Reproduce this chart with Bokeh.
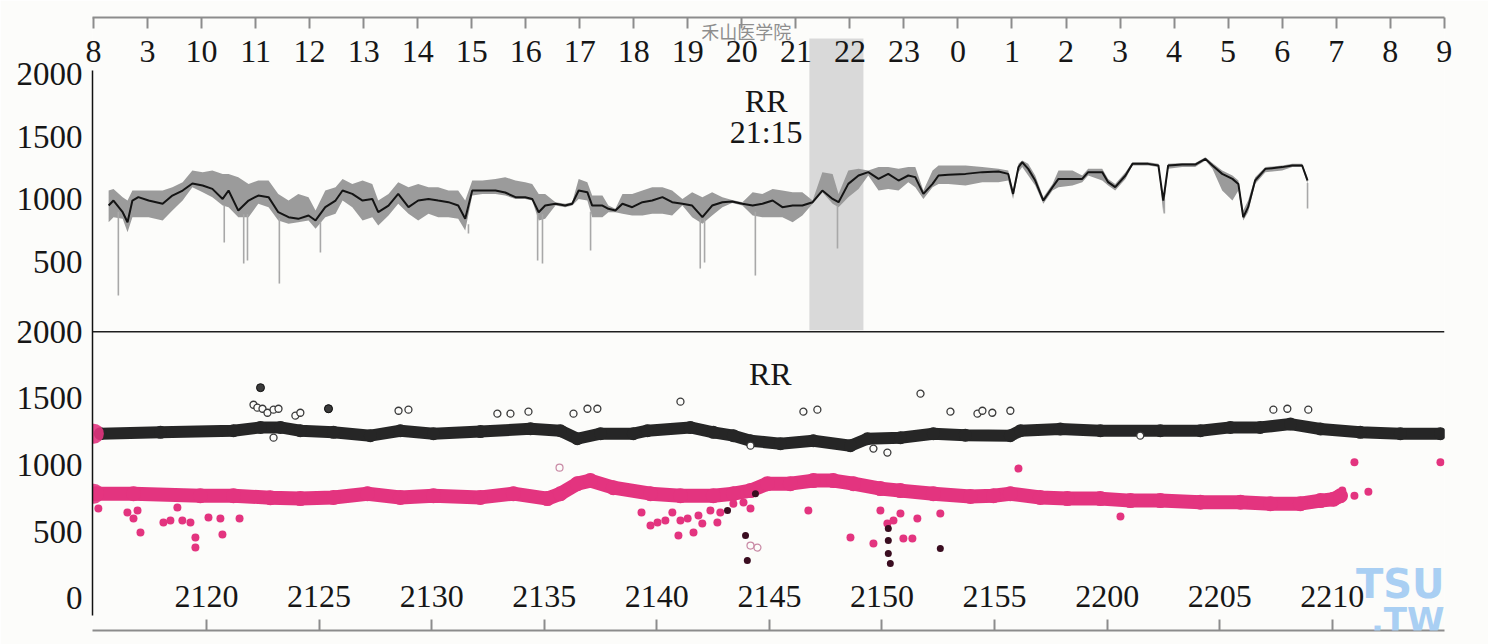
from bokeh.plotting import figure
from bokeh.models import Range1d, LinearAxis, FixedTicker, Span, BoxAnnotation, Label
from bokeh.embed import file_html
from bokeh.resources import INLINE

# ---------------- data ----------------
hour_ticks = list(range(8, 34))
hour_labels = ["8", "3", "10", "11", "12", "13", "14", "15", "16", "17", "18", "19", "20",
               "21", "22", "23", "0", "1", "2", "3", "4", "5", "6", "7", "8", "9"]

# 24 h RR trend (hours after midnight of day 1; >24 = next morning)
trend_hour = [8.28, 8.37, 8.54, 8.63, 8.72, 8.83, 9.02, 9.28, 9.46, 9.65, 9.83, 10.02, 10.20, 10.39,
              10.50, 10.68, 10.87, 11.05, 11.24, 11.42, 11.61, 11.79, 11.98, 12.11, 12.29, 12.48,
              12.61, 12.79, 12.98, 13.16, 13.27, 13.46, 13.64, 13.83, 14.01, 14.20, 14.38, 14.57,
              14.75, 14.88, 15.01, 15.20, 15.44, 15.62, 15.81, 15.99, 16.12, 16.24, 16.36, 16.55,
              16.73, 16.86, 16.98, 17.14, 17.23, 17.42, 17.53, 17.66, 17.79, 17.97, 18.16, 18.34,
              18.53, 18.71, 18.90, 19.08, 19.27, 19.45, 19.64, 19.82, 20.01, 20.20, 20.38, 20.57,
              20.75, 20.94, 21.12, 21.31, 21.49, 21.68, 21.79, 21.97, 22.16, 22.34, 22.53, 22.71,
              22.90, 23.08, 23.21, 23.36, 23.53, 23.64, 23.82, 24.14, 24.45, 24.75, 24.93, 25.02,
              25.12, 25.19, 25.30, 25.43, 25.58, 25.75, 25.86, 26.12, 26.30, 26.41, 26.67, 26.78,
              26.91, 27.10, 27.23, 27.52, 27.71, 27.80, 27.89, 28.15, 28.39, 28.58, 28.71, 28.89,
              29.08, 29.19, 29.28, 29.37, 29.50, 29.69, 30.00, 30.19, 30.37, 30.47]
trend_mean = [950, 990, 897, 817, 990, 1017, 990, 964, 1030, 1070, 1126, 1110, 1083, 1003,
              1070, 910, 990, 1030, 1017, 897, 857, 844, 871, 831, 937, 990,
              1070, 1043, 990, 1003, 897, 950, 1043, 937, 990, 1003, 990, 977,
              950, 844, 1070, 1070, 1070, 1054, 1017, 1017, 1003, 897, 950, 964,
              950, 964, 1070, 1057, 950, 950, 924, 910, 964, 937, 977, 990,
              1017, 977, 964, 950, 857, 950, 977, 983, 964, 950, 964, 990,
              937, 950, 950, 977, 1070, 1003, 977, 1123, 1190, 1217, 1163, 1203,
              1150, 1190, 1177, 1043, 1123, 1190, 1197, 1203, 1217, 1222, 1203, 1043,
              1257, 1296, 1243, 1150, 990, 1097, 1163, 1163, 1163, 1217, 1217, 1137,
              1097, 1190, 1283, 1283, 1270, 990, 1270, 1277, 1277, 1323, 1270, 1203,
              1163, 1123, 857, 937, 1150, 1243, 1257, 1270, 1270, 1150]
trend_low = [817, 857, 844, 737, 857, 857, 857, 831, 910, 990, 1097, 1057, 1017, 950,
             937, 857, 857, 964, 937, 831, 804, 817, 831, 764, 857, 884,
             990, 937, 831, 857, 791, 871, 964, 884, 831, 884, 857, 857,
             844, 751, 1030, 1043, 1043, 1030, 1003, 1003, 990, 831, 844, 950,
             937, 950, 1003, 990, 857, 857, 897, 897, 884, 871, 871, 884,
             884, 871, 950, 857, 804, 871, 937, 970, 950, 871, 857, 857,
             857, 817, 871, 964, 1057, 964, 937, 1017, 1083, 1190, 1070, 1083,
             1070, 1137, 1097, 1003, 1097, 1123, 1123, 1110, 1137, 1137, 1150, 1003,
             1217, 1257, 1190, 1110, 964, 1070, 1097, 1110, 1137, 1190, 1150, 1110,
             1070, 1163, 1270, 1270, 1257, 884, 1243, 1257, 1257, 1310, 1243, 1070,
             990, 1070, 831, 897, 1123, 1217, 1230, 1257, 1257, 1123]
trend_high = [1070, 1083, 1017, 990, 1070, 1070, 1070, 1070, 1097, 1137, 1230, 1217, 1230, 1203,
              1203, 1177, 1123, 1150, 1150, 1043, 990, 1043, 1017, 910, 1070, 1097,
              1163, 1123, 1150, 1123, 990, 1043, 1137, 1097, 1123, 1097, 1097, 1070,
              1070, 990, 1150, 1150, 1163, 1177, 1150, 1137, 1123, 1043, 1043, 977,
              964, 977, 1163, 1137, 1030, 1030, 950, 924, 1043, 1043, 1070, 1097,
              1097, 1070, 1003, 1057, 1017, 1057, 1017, 995, 977, 1057, 1043, 1083,
              1070, 1057, 1057, 990, 1217, 1203, 1043, 1230, 1243, 1230, 1257, 1257,
              1243, 1257, 1257, 1070, 1230, 1270, 1270, 1270, 1257, 1243, 1230, 1070,
              1283, 1310, 1283, 1190, 1017, 1123, 1230, 1230, 1190, 1243, 1243, 1163,
              1123, 1217, 1296, 1296, 1283, 1003, 1283, 1290, 1290, 1336, 1290, 1230,
              1190, 1150, 910, 990, 1177, 1257, 1270, 1283, 1283, 1177]

# isolated short RR intervals (downward spikes) in the 24 h trend
spike_hour = [8.46, 10.42, 10.78, 10.85, 11.44, 12.20, 14.94, 16.22, 16.31, 17.20,
              19.23, 19.31, 20.25, 21.77, 27.82, 30.47]
spike_top = [900, 950, 880, 880, 850, 820, 800, 880, 880, 900,
             840, 840, 900, 950, 1000, 1130]
spike_low = [232, 655, 487, 511, 327, 575, 727, 511, 487, 591,
             447, 495, 391, 607, 887, 927]

# highlighted hour window (21:15 - 22:15)
window_start_h = 21.25
window_end_h = 22.25

# y axis ticks of both panels
top_y_ticks = [500, 1000, 1500, 2000]
bottom_y_ticks = [0, 500, 1000, 1500, 2000]

# one-hour detail (minutes after midnight)
minute_ticks = [1280, 1285, 1290, 1295, 1300, 1305, 1310, 1315, 1320, 1325, 1330]
minute_labels = ["2120", "2125", "2130", "2135", "2140", "2145", "2150", "2155", "2200", "2205", "2210"]

black_t = [1275.29, 1277.96, 1281.20, 1282.40, 1283.29, 1284.17, 1285.64, 1287.28, 1288.61, 1290.08,
           1292.17, 1294.39, 1295.72, 1296.47, 1297.50, 1298.96, 1299.58, 1301.49, 1302.51, 1303.40,
           1304.16, 1305.49, 1306.95, 1308.60, 1309.35, 1310.82, 1312.28, 1313.70, 1315.70, 1316.15,
           1317.92, 1319.70, 1322.36, 1324.14, 1325.47, 1326.80, 1328.14, 1329.47, 1331.24, 1333.02,
           1334.80]
black_v = [1236, 1246, 1258, 1283, 1283, 1258, 1246, 1221, 1258, 1236,
           1252, 1273, 1258, 1198, 1236, 1236, 1258, 1283, 1246, 1221,
           1183, 1161, 1183, 1146, 1198, 1206, 1236, 1225, 1221, 1258,
           1271, 1258, 1258, 1258, 1283, 1283, 1308, 1271, 1246, 1236,
           1236]

pink_t = [1275.10, 1276.76, 1279.73, 1281.20, 1282.84, 1284.17, 1285.64, 1287.15, 1288.61, 1290.08,
          1292.17, 1293.63, 1295.14, 1295.72, 1296.47, 1297.05, 1298.07, 1299.72, 1301.05, 1302.51,
          1303.40, 1304.16, 1304.91, 1305.93, 1306.95, 1307.84, 1308.73, 1309.93, 1310.82, 1312.28,
          1313.93, 1314.95, 1315.70, 1317.03, 1318.23, 1319.70, 1321.03, 1322.36, 1324.14, 1325.92,
          1327.25, 1328.58, 1329.47, 1330.05, 1330.36]
pink_v = [786, 786, 771, 771, 756, 749, 757, 786, 757, 771,
          758, 786, 749, 786, 861, 884, 831, 786, 771, 771,
          786, 809, 861, 861, 884, 884, 861, 824, 809, 786,
          765, 771, 786, 757, 749, 749, 734, 734, 722, 722,
          711, 711, 734, 744, 771]

pink_out_t = [1275.20, 1276.49, 1276.76, 1276.94, 1277.07, 1278.09, 1278.40, 1278.71, 1278.93, 1279.29,
              1279.51, 1279.51, 1280.09, 1280.62, 1280.71, 1281.47, 1299.32, 1299.72, 1300.03, 1300.38,
              1300.69, 1300.96, 1301.05, 1301.37, 1301.63, 1301.85, 1302.02, 1302.38, 1302.69, 1302.82,
              1303.40, 1303.85, 1304.16, 1306.73, 1308.60, 1309.62, 1309.93, 1310.24, 1310.51, 1310.82,
              1310.95, 1311.35, 1311.57, 1312.59, 1316.06, 1320.59, 1330.44, 1330.98, 1331.60, 1330.98,
              1334.80]
pink_out_v = [674, 644, 599, 659, 494, 569, 584, 682, 584, 569,
              457, 382, 607, 599, 479, 599, 644, 547, 569, 584,
              644, 472, 584, 599, 494, 622, 562, 659, 569, 644,
              711, 719, 674, 659, 457, 412, 659, 562, 584, 637,
              449, 449, 599, 637, 974, 614, 809, 771, 801, 1021,
              1021]

dark_out_t = [1303.14, 1303.94, 1304.02, 1304.38, 1310.28, 1310.28, 1310.28, 1310.37, 1312.59]
dark_out_v = [659, 472, 285, 786, 524, 434, 337, 262, 374]

pink_open_t = [1304.16, 1304.47, 1295.68]
pink_open_v = [397, 382, 981]

black_open_t = [1282.09, 1282.26, 1282.49, 1282.71, 1282.98, 1283.20, 1283.95, 1284.17, 1285.42, 1288.53,
                1288.97, 1292.92, 1293.50, 1294.30, 1296.30, 1296.92, 1297.36, 1301.05, 1306.51, 1307.13,
                1311.71, 1313.04, 1314.24, 1314.46, 1314.90, 1315.70, 1327.38, 1328.00, 1328.93,
                1282.98, 1309.62, 1310.24, 1304.16, 1321.47]
black_open_v = [1453, 1431, 1423, 1393, 1416, 1423, 1371, 1393, 1423, 1408,
                1416, 1386, 1386, 1401, 1386, 1423, 1423, 1476, 1401, 1416,
                1536, 1401, 1386, 1408, 1393, 1408, 1416, 1423, 1416,
                1206, 1124, 1094, 1146, 1221]

black_filled_t = [1282.40, 1285.42]
black_filled_v = [1581, 1423]

start_t = [1275.0, 1275.0]
start_v = [1236, 786]

# ---------------- style ----------------
BG = "#fcfcfa"
PINK = "#e3347f"
SERIF = "Liberation Serif"

# frame ranges
x_min = (1274.94, 1334.98)          # minutes (bottom panel)
x_hour = (7.9815, 33.005)           # hours (top panel)
y_bot = (-240, 4357)                # bottom panel values
y_top = (-2444, 2452)               # top panel values

p = figure(width=1488, height=644, output_backend="svg", toolbar_location=None,
           x_range=Range1d(*x_min), y_range=Range1d(*y_bot),
           x_axis_type=None, y_axis_type=None,
           min_border_left=92, min_border_right=44, min_border_top=17, min_border_bottom=14,
           background_fill_color=BG, border_fill_color=BG, outline_line_color=None)
p.extra_x_ranges = {"hours": Range1d(*x_hour)}
p.extra_y_ranges = {"top": Range1d(*y_top)}


def top_to_base(v):
    return y_bot[0] + (v - y_top[0]) * (y_bot[1] - y_bot[0]) / (y_top[1] - y_top[0])


# left axis shared by both panels
ticks = [int(round(top_to_base(v))) for v in top_y_ticks] + bottom_y_ticks
labels = [str(v) for v in top_y_ticks] + [str(v) for v in bottom_y_ticks]
yax = LinearAxis(ticker=FixedTicker(ticks=ticks), major_label_overrides=dict(zip(ticks, labels)),
                 bounds=(-127, 3960), axis_line_color="#111111", axis_line_width=1.5,
                 major_tick_in=0, major_tick_out=0, minor_tick_line_color=None,
                 major_label_standoff=10, major_label_text_font=SERIF,
                 major_label_text_font_size="33px", major_label_text_color="#161616")
p.add_layout(yax, "left")

# top hour axis (ticks pointing down, labels below the line)
hax = LinearAxis(x_range_name="hours", ticker=FixedTicker(ticks=hour_ticks),
                 major_label_overrides=dict(zip(hour_ticks, hour_labels)),
                 axis_line_color="#8c8c8c", axis_line_width=2,
                 major_tick_in=11, major_tick_out=0, major_tick_line_color="#8c8c8c",
                 major_tick_line_width=2, minor_tick_line_color=None,
                 major_label_standoff=-44, major_label_text_font=SERIF,
                 major_label_text_font_size="32px", major_label_text_color="#161616")
p.add_layout(hax, "above")

# bottom minute axis (ticks pointing up, labels above the line)
max_ = LinearAxis(ticker=FixedTicker(ticks=minute_ticks),
                  major_label_overrides=dict(zip(minute_ticks, minute_labels)),
                  axis_line_color="#8c8c8c", axis_line_width=2,
                  major_tick_in=11, major_tick_out=0, major_tick_line_color="#8c8c8c",
                  major_tick_line_width=2, minor_tick_line_color=None,
                  major_label_standoff=-45, major_label_text_font=SERIF,
                  major_label_text_font_size="32px", major_label_text_color="#161616")
p.add_layout(max_, "below")

# separator between panels
p.add_layout(Span(location=2000, dimension="width", line_color="#1e1e1e", line_width=1.5))

# highlighted window in the trend
p.add_layout(BoxAnnotation(left=window_start_h, right=window_end_h, bottom=-45, top=2285,
                           x_range_name="hours", y_range_name="top", level="underlay",
                           fill_color="#d9d9d9", fill_alpha=1.0, line_color=None))

# ---- top panel: 24 h trend ----
p.varea(x=trend_hour, y1=trend_low, y2=trend_high, fill_color="#9b9b9b",
        x_range_name="hours", y_range_name="top")
p.segment(x0=spike_hour, y0=spike_top, x1=spike_hour, y1=spike_low, line_color="#a8a8a8",
          line_width=1.6, x_range_name="hours", y_range_name="top")
p.line(trend_hour, trend_mean, line_color="#141414", line_width=2,
       x_range_name="hours", y_range_name="top")

# ---- bottom panel: one hour of RR ----
p.line(pink_t, pink_v, line_color=PINK, line_width=14, line_join="round", line_cap="round")
p.scatter(pink_t, pink_v, size=15, fill_color=PINK, line_color=None)
p.scatter(pink_out_t, pink_out_v, size=8, fill_color=PINK, line_color=None)
p.scatter(pink_open_t, pink_open_v, size=7, fill_color=None, line_color="#c98aa5", line_width=1.2)
p.scatter(dark_out_t, dark_out_v, size=7, fill_color="#3a0d20", line_color=None)

p.line(black_t, black_v, line_color="#262626", line_width=12, line_join="round", line_cap="round")
p.scatter(black_t, black_v, size=13, fill_color="#262626", line_color=None)
p.scatter(black_open_t, black_open_v, size=7, fill_color=BG, line_color="#3a3a3a", line_width=1.3)
p.scatter(black_filled_t, black_filled_v, size=8, fill_color="#3a3a3a", line_color="#111111")
p.scatter(start_t, start_v, size=20, fill_color=PINK, line_color=None, alpha=0.9)

# ---- texts ----
p.add_layout(Label(x=20.45, y=1789, x_range_name="hours", y_range_name="top", text="RR",
                   text_align="center", text_baseline="alphabetic", text_font=SERIF,
                   text_font_size="32px", text_color="#161616"))
p.add_layout(Label(x=20.45, y=1541, x_range_name="hours", y_range_name="top", text="21:15",
                   text_align="center", text_baseline="alphabetic", text_font=SERIF,
                   text_font_size="32px", text_color="#161616"))
p.add_layout(Label(x=1305.04, y=1680, text="RR", text_align="center", text_baseline="alphabetic",
                   text_font=SERIF, text_font_size="32px", text_color="#161616"))

# watermarks
p.add_layout(Label(x=20.08, y=2452, x_range_name="hours", y_range_name="top", text="禾山医学院",
                   text_align="center", text_baseline="top", text_font="Noto Sans CJK SC",
                   text_font_size="18px", text_color="#8e8e8e"))
p.add_layout(Label(x=x_min[1], y=105, text="TSU", text_align="right", text_baseline="middle",
                   text_font="DejaVu Sans", text_font_style="bold", text_font_size="40px",
                   text_color="#a9cff3"))
p.add_layout(Label(x=x_min[1], y=-165, text=".TW", text_align="right", text_baseline="middle",
                   text_font="DejaVu Sans", text_font_style="bold", text_font_size="34px",
                   text_color="#a9cff3"))

open("out.html", "w").write(file_html(p, INLINE))
